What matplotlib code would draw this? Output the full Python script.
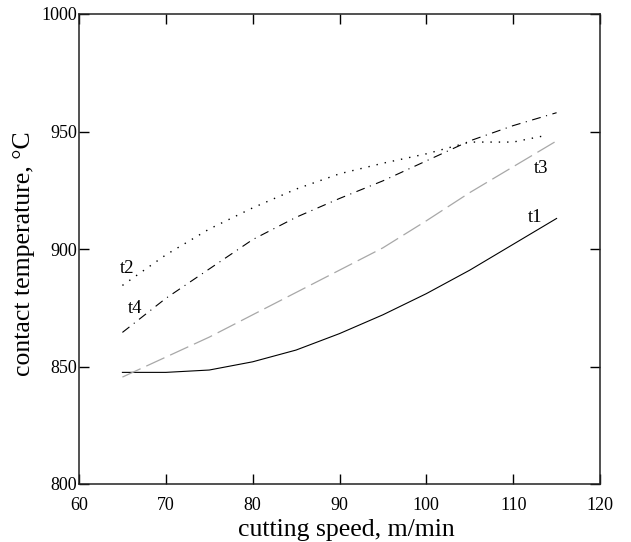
import matplotlib
matplotlib.use("Agg")
import matplotlib.pyplot as plt

plt.rcParams['font.family'] = ['Liberation Serif', 'DejaVu Serif']

speed = [65, 70, 75, 80, 85, 90, 95, 100, 105, 110, 115]
t1 = [847.5, 847.5, 848.5, 852, 857, 864, 872, 881, 891, 902, 913]
t3 = [845.5, 854, 862.5, 872, 881.5, 891, 900.5, 912, 924, 935, 946]
t4 = [864.5, 879, 891.5, 904, 913.5, 921.5, 929, 937.5, 946, 952.5, 958]
speed_t2 = [65, 70, 75, 80, 85, 90, 95, 100, 105, 110, 114]
t2 = [884.5, 897.5, 908.5, 917.5, 925.5, 932, 936.5, 940.5, 945.5, 945.5, 948.5]

labels = ["t1", "t2", "t3", "t4"]
label_pos = [(112.5, 911.5), (65.5, 889.8), (113.2, 932.3), (66.5, 872.8)]

fig = plt.figure(figsize=(6.31, 5.42), dpi=100)
ax = fig.add_axes([79/631, 1-484/542, 521/631, 470/542])

ax.plot(speed, t1, color='black', lw=0.8, ls='-')
ax.plot(speed_t2, t2, color='black', lw=1.0, ls=(0, (1, 5)))
ax.plot(speed, t3, color='#a8a8a8', lw=0.9, ls=(0, (16, 5)))
ax.plot(speed, t4, color='black', lw=0.8, ls=(0, (8, 5, 1, 5)))

for lab, (px, py) in zip(labels, label_pos):
    ax.text(px, py, lab, fontsize=13.5, ha='center', va='baseline')

ax.set_xlim(60, 120)
ax.set_ylim(800, 1000)
ax.set_xticks([60, 70, 80, 90, 100, 110, 120])
ax.set_yticks([800, 850, 900, 950, 1000])
ax.tick_params(direction='in', top=True, right=True, length=7, width=1, labelsize=13)
ax.tick_params(axis='x', pad=9)
ax.tick_params(axis='y', pad=1.5)
for s in ax.spines.values():
    s.set_linewidth(1.1)
    s.set_color('#222222')

ax.set_xlabel("cutting speed, m/min", fontsize=18.5, va='center')
ax.xaxis.set_label_coords(0.513, -0.098)
ax.set_ylabel("contact temperature, °C", fontsize=18.5, va='center')
ax.yaxis.set_label_coords(-0.106, 0.49)

fig.savefig("out.png", dpi=100)
